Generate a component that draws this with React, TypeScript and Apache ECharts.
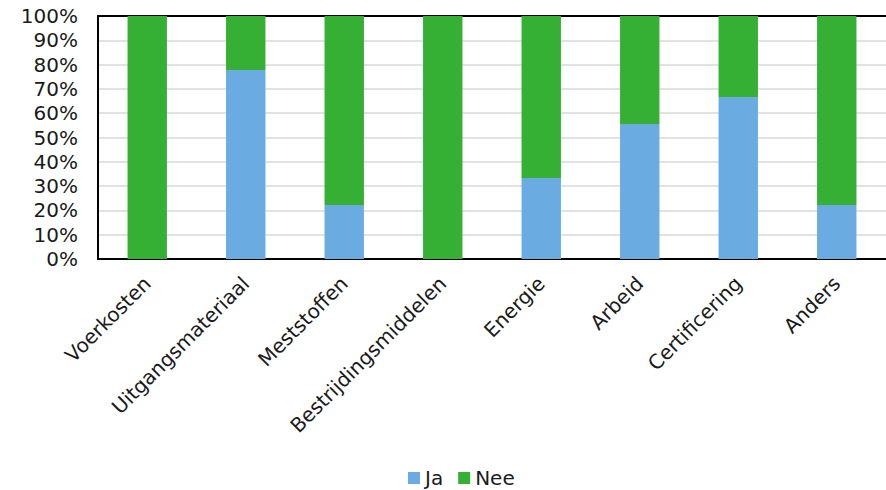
import React, { useEffect, useRef } from "react";
import * as echarts from "echarts";

const categories = [
  "Voerkosten",
  "Uitgangsmateriaal",
  "Meststoffen",
  "Bestrijdingsmiddelen",
  "Energie",
  "Arbeid",
  "Certificering",
  "Anders",
];
const jaValues = [0, 77.8, 22.2, 0, 33.3, 55.6, 66.7, 22.2];
const neeValues = [100, 22.2, 77.8, 100, 66.7, 44.4, 33.3, 77.8];
const seriesNames = ["Ja", "Nee"];

const FONT = "DejaVu Sans, Verdana, sans-serif";

export default function App() {
  const ref = useRef<HTMLDivElement>(null);
  useEffect(() => {
    if (!ref.current) return;
    const chart = echarts.init(ref.current, null, { renderer: "svg" });
    chart.setOption({
      animation: false,
      textStyle: { fontFamily: FONT },
      grid: { left: 98, right: 0, top: 16, bottom: 231 },
      legend: {
        top: 468,
        left: 403,
        padding: [0, 5, 0, 5],
        itemWidth: 12,
        itemHeight: 12,
        itemGap: 15,
        icon: "rect",
        textStyle: { fontSize: 20, lineHeight: 20, color: "#1a1a1a", fontFamily: FONT },
        data: seriesNames,
      },
      xAxis: [
        {
          type: "category",
          data: categories,
          axisLine: { lineStyle: { color: "#000", width: 2 } },
          axisTick: { show: false },
          axisLabel: {
            rotate: 45,
            interval: 0,
            fontSize: 20,
            color: "#1a1a1a",
            fontFamily: FONT,
            margin: 21,
          },
        },
        {
          type: "category",
          position: "top",
          data: categories,
          axisLine: { lineStyle: { color: "#000", width: 2 } },
          axisTick: { show: false },
          axisLabel: { show: false },
        },
      ],
      yAxis: {
        type: "value",
        min: 0,
        max: 100,
        interval: 10,
        axisLine: { show: true, lineStyle: { color: "#000", width: 2 } },
        axisTick: { show: false },
        splitLine: { lineStyle: { color: "#d9d9d9", width: 1.5 } },
        axisLabel: {
          formatter: "{value}%",
          fontSize: 20,
          color: "#1a1a1a",
          fontFamily: FONT,
          margin: 20,
        },
      },
      series: [
        {
          name: seriesNames[0],
          type: "bar",
          stack: "total",
          barWidth: "40%",
          data: jaValues,
          itemStyle: { color: "#6aace2" },
        },
        {
          name: seriesNames[1],
          type: "bar",
          stack: "total",
          barWidth: "40%",
          data: neeValues,
          itemStyle: { color: "#35b035" },
        },
      ],
    });
    return () => chart.dispose();
  }, []);
  return (
    <div
      ref={ref}
      style={{ position: "fixed", left: 0, top: 0, width: 886, height: 490, background: "#fff" }}
    />
  );
}
